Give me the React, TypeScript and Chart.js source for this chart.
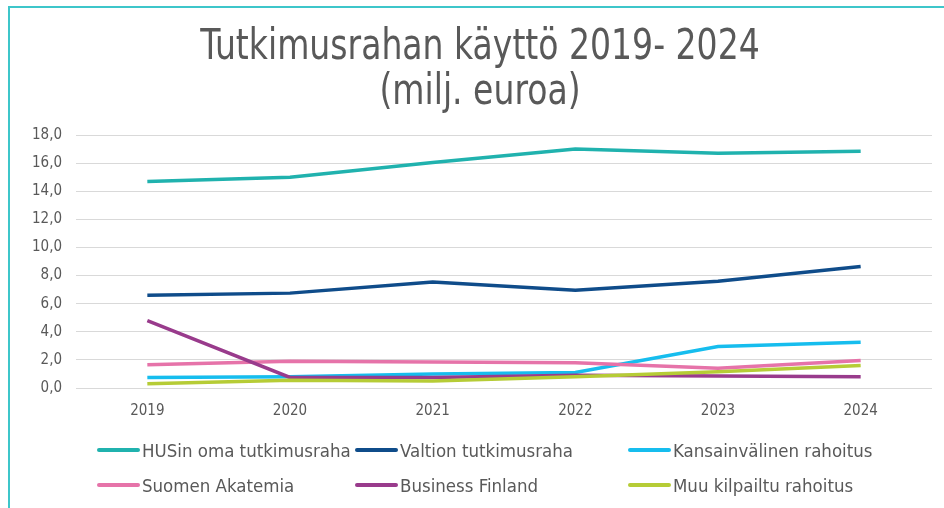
import React, { useEffect, useRef } from "react";
import { Chart, registerables } from "chart.js";

Chart.register(...registerables);

const years = ["2019", "2020", "2021", "2022", "2023", "2024"];
const seriesNames = [
  "HUSin oma tutkimusraha",
  "Valtion tutkimusraha",
  "Kansainvälinen rahoitus",
  "Suomen Akatemia",
  "Business Finland",
  "Muu kilpailtu rahoitus",
];
const husOma = [14.7, 15.0, 16.05, 17.0, 16.7, 16.85];
const valtion = [6.6, 6.75, 7.55, 6.95, 7.6, 8.65];
const kansainvalinen = [0.75, 0.8, 1.0, 1.1, 2.95, 3.25];
const suomenAkatemia = [1.65, 1.9, 1.85, 1.8, 1.4, 1.95];
const businessFinland = [4.8, 0.75, 0.75, 0.9, 0.85, 0.8];
const muuKilpailtu = [0.3, 0.55, 0.5, 0.8, 1.15, 1.6];
const seriesValues = [husOma, valtion, kansainvalinen, suomenAkatemia, businessFinland, muuKilpailtu];
const seriesColors = ["#20B2AE", "#0F4C8A", "#16BDEE", "#E673A9", "#993B8C", "#B6CC36"];
const titleLines = ["Tutkimusrahan käyttö 2019- 2024", "(milj. euroa)"];

const FONT = '"Liberation Sans Narrow", "DejaVu Sans Condensed", "Liberation Sans", sans-serif';
const TEXT = "#595959";

export default function App() {
  const canvasRef = useRef<HTMLCanvasElement | null>(null);

  useEffect(() => {
    const ctx = canvasRef.current!.getContext("2d")!;
    const n = seriesValues.length;
    const chart = new Chart(ctx, {
      type: "line",
      data: {
        labels: years,
        datasets: seriesValues.map((vals, i) => ({
          label: seriesNames[i],
          data: vals,
          borderColor: seriesColors[i],
          backgroundColor: seriesColors[i],
          borderWidth: 3.5,
          pointRadius: 0,
          tension: 0,
          order: n - i,
        })),
      },
      options: {
        animation: false,
        responsive: false,
        maintainAspectRatio: false,
        layout: { padding: { top: 135, left: 0, right: 12, bottom: 60 } },
        plugins: {
          legend: { display: false },
          title: { display: false },
          tooltip: { enabled: false },
        },
        scales: {
          x: {
            offset: true,
            grid: { display: false, drawTicks: false, offset: true },
            border: { display: false },
            ticks: { color: TEXT, font: { family: FONT, size: 15 }, padding: 14 },
            afterFit: (s: any) => {
              s.height = 60;
            },
          },
          y: {
            min: 0,
            max: 18,
            grid: { color: "#D9D9D9", lineWidth: 1, drawTicks: false },
            border: { display: false },
            ticks: {
              stepSize: 2,
              color: TEXT,
              font: { family: FONT, size: 15 },
              padding: 14,
              callback: (v: any) => Number(v).toFixed(1).replace(".", ","),
            },
            afterFit: (s: any) => {
              s.width = 76;
            },
          },
        },
      },
    });
    return () => chart.destroy();
  }, []);

  const legendCols = [97, 355, 628];
  const legendRows = [450, 485];

  return (
    <div>
      <div
        style={{
          position: "fixed",
          left: 8,
          top: 6,
          width: 1000,
          height: 600,
          border: "2px solid #3EC6CA",
          boxSizing: "border-box",
        }}
      />
      <canvas
        ref={canvasRef}
        width={944}
        height={508}
        style={{ position: "fixed", left: 0, top: 0, width: 944, height: 508 }}
      />
      <div
        style={{
          position: "fixed",
          left: 8,
          top: 22,
          width: 944,
          textAlign: "center",
          fontFamily: FONT,
          fontSize: 42,
          lineHeight: "45px",
          color: TEXT,
          transform: "scaleX(0.875)",
          transformOrigin: "472px 0",
        }}
      >
        {titleLines.map((t, i) => (
          <div key={i}>{t}</div>
        ))}
      </div>
      {seriesNames.map((name, i) => {
        const col = i % 3;
        const row = Math.floor(i / 3);
        return (
          <div
            key={name}
            style={{
              position: "fixed",
              left: legendCols[col],
              top: legendRows[row] - 12,
              height: 24,
              display: "flex",
              alignItems: "center",
              fontFamily: FONT,
              fontSize: 18.5,
              color: TEXT,
              whiteSpace: "nowrap",
            }}
          >
            <span
              style={{
                display: "inline-block",
                width: 43,
                height: 4,
                borderRadius: 2,
                background: seriesColors[i],
                marginRight: 2,
              }}
            />
            <span>{name}</span>
          </div>
        );
      })}
    </div>
  );
}
